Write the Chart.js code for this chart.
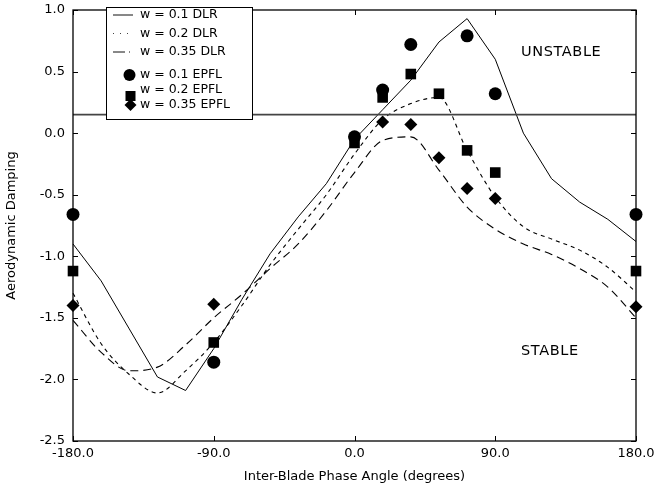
<!DOCTYPE html>
<html><head><meta charset="utf-8">
<script src="https://cdn.jsdelivr.net/npm/chart.js@4"></script>
<style>html,body{margin:0;padding:0;background:#fff;}</style>
</head><body>
<canvas id="c" width="654" height="488"></canvas>
<script>
// ---- data ----
const dlrAngles = [-180,-162,-144,-126,-108,-90,-72,-54,-36,-18,0,18,36,54,72,90,108,126,144,162,180];
const dlrW010 = [-0.90,-1.20,-1.59,-1.98,-2.09,-1.75,-1.35,-0.98,-0.68,-0.41,-0.05,0.19,0.43,0.74,0.93,0.60,0.00,-0.37,-0.56,-0.70,-0.88];
const dlrW020 = [-1.30,-1.71,-1.96,-2.11,-1.93,-1.70,-1.40,-1.07,-0.78,-0.50,-0.17,0.11,0.24,0.29,-0.14,-0.52,-0.76,-0.86,-0.95,-1.09,-1.29];
const dlrW035 = [-1.52,-1.78,-1.93,-1.90,-1.72,-1.50,-1.31,-1.10,-0.90,-0.63,-0.32,-0.06,-0.03,-0.30,-0.60,-0.78,-0.90,-0.985,-1.10,-1.25,-1.50];
const epflAngles = [-180,-90,0,18,36,54,72,90,180];
const epflW010 = [-0.66,-1.86,-0.03,0.35,0.72,null,0.79,0.32,-0.66];
const epflW020 = [-1.12,-1.70,-0.08,0.29,0.48,0.32,-0.14,-0.32,-1.12];
const epflW035 = [-1.40,-1.39,null,0.09,0.07,-0.20,-0.45,-0.53,-1.41];
const stabilityLimit = 0.15;
const xTicks = [-180,-90,0,90,180];
const yTicks = [1.0,0.5,0.0,-0.5,-1.0,-1.5,-2.0,-2.5];
const seriesLabels = ['w = 0.1 DLR','w = 0.2 DLR','w = 0.35 DLR','w = 0.1 EPFL','w = 0.2 EPFL','w = 0.35 EPFL'];
const regionLabels = [{text:'UNSTABLE', x:106.5, y:0.66},{text:'STABLE', x:106.5, y:-1.775}];
const xTitle = 'Inter-Blade Phase Angle (degrees)';
const yTitle = 'Aerodynamic Damping';

const FONT = 'DejaVu Sans';
const pts = (xs, ys) => xs.map((x,i)=>({x, y: ys[i]})).filter(p=>p.y!==null);

const lineDs = (label, ys, dash, w) => ({
  label, data: pts(dlrAngles, ys), showLine:true, borderColor:'#000', borderWidth:w,
  borderDash:dash, pointRadius:0, cubicInterpolationMode: dash.length ? 'monotone' : 'default', tension:0, fill:false, clip:false
});
const ptDs = (label, ys, style, r) => ({
  label, data: pts(epflAngles, ys), showLine:false, pointStyle:style, pointRadius:r,
  pointBackgroundColor:'#000', pointBorderColor:'#000', pointBorderWidth:0, clip:false
});

const decor = {
  id:'decor',
  afterDraw(chart){
    const ctx = chart.ctx, a = chart.chartArea, xs = chart.scales.x, ys = chart.scales.y;
    ctx.save();
    // frame
    ctx.strokeStyle = '#000'; ctx.lineWidth = 1.3;
    ctx.strokeRect(a.left, a.top, a.right-a.left, a.bottom-a.top);
    // inner ticks
    ctx.lineWidth = 1;
    const tl = 5;
    xTicks.forEach(v=>{
      const px = Math.round(xs.getPixelForValue(v))+0.5;
      ctx.beginPath(); ctx.moveTo(px,a.bottom); ctx.lineTo(px,a.bottom-tl);
      ctx.moveTo(px,a.top); ctx.lineTo(px,a.top+tl); ctx.stroke();
    });
    yTicks.forEach(v=>{
      const py = Math.round(ys.getPixelForValue(v))+0.5;
      ctx.beginPath(); ctx.moveTo(a.left,py); ctx.lineTo(a.left+tl,py);
      ctx.moveTo(a.right,py); ctx.lineTo(a.right-tl,py); ctx.stroke();
    });
    // region labels
    ctx.fillStyle = '#000'; ctx.font = '14.5px "'+FONT+'"'; ctx.textAlign='left'; ctx.textBaseline='middle';
    ctx.letterSpacing = '0.6px';
    regionLabels.forEach(r=>ctx.fillText(r.text, xs.getPixelForValue(r.x), ys.getPixelForValue(r.y)));
    ctx.letterSpacing = '0px';
    // legend
    const bx=106.5, by=7.5, bw=146, bh=112;
    ctx.fillStyle='#fff'; ctx.fillRect(bx,by,bw,bh);
    ctx.strokeStyle='#000'; ctx.lineWidth=1; ctx.strokeRect(bx,by,bw,bh);
    const rowsY = [15,33.5,52,75,90,105];
    ctx.fillStyle='#000'; ctx.font='12.5px "'+FONT+'"';
    seriesLabels.forEach((t,i)=>ctx.fillText(t,140,rowsY[i]));
    ctx.strokeStyle='#111';
    const sample=(y,dash,w)=>{ctx.setLineDash(dash);ctx.lineWidth=w;ctx.beginPath();ctx.moveTo(113,y);ctx.lineTo(133,y);ctx.stroke();};
    sample(rowsY[0],[],1); sample(rowsY[1],[1,6],0.8); sample(rowsY[2],[12,4,1,4],1);
    ctx.setLineDash([]);
    ctx.beginPath(); ctx.arc(129.5,rowsY[3],6,0,Math.PI*2); ctx.fill();
    ctx.fillRect(125.5,rowsY[4]+1,10,10);
    ctx.beginPath(); ctx.moveTo(130.5,rowsY[5]-6); ctx.lineTo(136.5,rowsY[5]); ctx.lineTo(130.5,rowsY[5]+6); ctx.lineTo(124.5,rowsY[5]); ctx.closePath(); ctx.fill();
    ctx.restore();
  }
};

new Chart(document.getElementById('c'), {
  type:'scatter',
  data:{ datasets:[
    {label:'limit', data:[{x:-180,y:stabilityLimit},{x:180,y:stabilityLimit}], showLine:true, borderColor:'#444', borderWidth:1.6, pointRadius:0},
    lineDs(seriesLabels[0], dlrW010, [], 1),
    lineDs(seriesLabels[1], dlrW020, [4,4], 1.1),
    lineDs(seriesLabels[2], dlrW035, [8,5], 1.1),
    ptDs(seriesLabels[3], epflW010, 'circle', 6.5),
    ptDs(seriesLabels[4], epflW020, 'rect', 7.5),
    ptDs(seriesLabels[5], epflW035, 'rectRot', 6.5)
  ]},
  options:{
    responsive:false, animation:false, devicePixelRatio:1,
    layout:{padding:{top:10,right:18,left:0,bottom:0}},
    plugins:{legend:{display:false}, tooltip:{enabled:false}},
    scales:{
      x:{type:'linear', min:-180, max:180,
        afterBuildTicks:s=>{s.ticks = xTicks.map(v=>({value:v}));},
        ticks:{callback:v=>Number(v).toFixed(1), color:'#000', font:{family:FONT,size:13}, padding:5, maxRotation:0, autoSkip:false},
        grid:{display:false, drawTicks:false}, border:{display:false},
        title:{display:true, text:xTitle, color:'#000', font:{family:FONT,size:13}, padding:{top:0,bottom:4}},
        afterFit:s=>{s.height=47; s.paddingLeft=0; s.paddingRight=0;}
      },
      y:{type:'linear', min:-2.5, max:1.0,
        afterBuildTicks:s=>{s.ticks = yTicks.map(v=>({value:v}));},
        ticks:{callback:v=>Number(v).toFixed(1), color:'#000', font:{family:FONT,size:13}, padding:8, autoSkip:false},
        grid:{display:false, drawTicks:false}, border:{display:false},
        title:{display:true, text:yTitle, color:'#000', font:{family:FONT,size:13}, padding:{top:4,bottom:0}},
        afterFit:s=>{s.width=73; s.paddingTop=0; s.paddingBottom=0;}
      }
    }
  },
  plugins:[decor]
});
</script>
</body></html>
